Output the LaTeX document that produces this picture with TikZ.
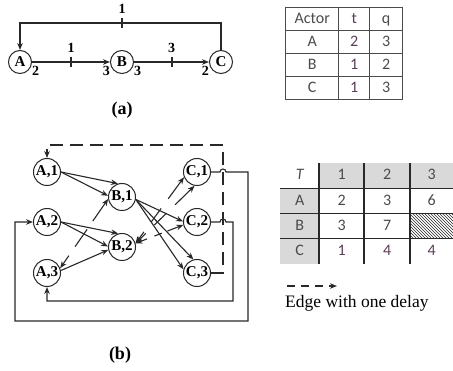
\documentclass[tikz,border=0pt]{standalone}
\usepackage{fontspec}
\setmainfont{Liberation Serif}
\newfontfamily\tabfont{Carlito}
\usetikzlibrary{arrows.meta, positioning, matrix, patterns, calc}
\definecolor{ink}{RGB}{40,40,40}
\definecolor{cellink}{RGB}{75,75,75}
\definecolor{tink}{RGB}{90,62,88}
\definecolor{cellgray}{RGB}{217,217,217}
\tikzset{
  actor/.style={circle, draw=ink, line width=1pt, inner sep=0pt, minimum size=23pt,
                font=\fontsize{15}{15}\selectfont\bfseries},
  firing/.style={actor, minimum size=27pt},
  port/.style={inner sep=0pt, font=\fontsize{14}{14}\selectfont\bfseries},
  dtick/.style={fill=ink, inner sep=0pt, minimum width=2pt, minimum height=10pt,
                label={[port, label distance=3pt]above:#1}},
  arrow/.style={-{Stealth[length=7pt, width=5.5pt]}, draw=ink, line width=1.1pt},
  darrow/.style={arrow, dash pattern=on 13pt off 7pt},
  cutedge/.style={{Stealth[length=7pt, width=5.5pt]}-{Stealth[length=7pt, width=5.5pt]},
                  draw=ink, line width=1.1pt, dash pattern=#1},
  tabcell/.style={inner sep=0pt, text=cellink, font=\fontsize{16}{16}\selectfont\tabfont,
                  text height=11pt, text depth=3pt},
  hdr/.style={fill=cellgray},
  caption/.style={font=\fontsize{18}{18}\selectfont\bfseries},
}

\begin{document}
\begin{tikzpicture}[x=1pt, y=-1pt]
  \useasboundingbox (0,0) rectangle (453,371);

  % (a) SDF graph
  \node[actor] (A) at (20,62) {A};
  \node[actor] (B) at (122,62) {B};
  \node[actor] (C) at (221,62) {C};
  \coordinate (aback) at (122,23);

  \draw[arrow] (A) -- node[dtick=1]{} (B);
  \draw[arrow] (B) -- node[dtick=3]{} (C);
  \draw[arrow] (C.north) |- (aback) node[dtick=1]{} -| (A.north);

  \node[port, below right=4pt and 0pt of A.east] (pA) {2};
  \node[port, below left=4pt and 0pt of B.west] (pBin) {3};
  \node[port, below right=4pt and 0pt of B.east] (pBout) {3};
  \node[port, below left=4pt and 0pt of C.west] (pC) {2};
  \node[caption, below=24pt of B] (capa) {(a)};

  % (a) rates table
  \matrix (rates) [matrix of nodes, anchor=north west, inner sep=0pt,
      column sep=-1pt, row sep=-1pt,
      nodes={tabcell, draw=cellink, line width=1pt, minimum height=23pt},
      column 1/.style={nodes={minimum width=53pt}},
      column 2/.style={nodes={minimum width=31pt, text=tink}},
      column 3/.style={nodes={minimum width=33pt}}] at (285,7) {
    Actor & t & q \\
    A & 2 & 3 \\
    B & 1 & 2 \\
    C & 1 & 3 \\
  };

  % (b) HSDF graph
  \node[firing] (A1) at (47,172) {A,1};
  \node[firing] (A2) at (47,222) {A,2};
  \node[firing] (A3) at (47,273) {A,3};
  \node[firing] (B1) at (122,197) {B,1};
  \node[firing] (B2) at (122,247) {B,2};
  \node[firing] (C1) at (197,172) {C,1};
  \node[firing] (C2) at (197,222) {C,2};
  \node[firing] (C3) at (197,273) {C,3};

  \draw[arrow] (A1.east) -- (B1.107);
  \draw[arrow] (A1.east) -- (B1.175);
  \draw[arrow] (A2.east) -- (B2.106);
  \draw[arrow] (A2.east) -- (B2.178);
  \draw[arrow] (A3.10) -- (B2.-168);
  \draw[cutedge={on 11pt off 11pt on 21pt off 10pt on 40pt}] (A3.20) -- (B1.-172);

  \draw[arrow] (B1.-10) -- (C2.178);
  \draw[arrow] (B1.-10) -- (C3.105);
  \draw[arrow] (B1.-10) -- (C3.165);
  \draw[cutedge={on 10pt off 12pt on 17pt off 12pt on 40pt}] (B2.15) -- (C1.-158);
  \draw[cutedge={on 10pt off 12pt on 17pt off 12pt on 40pt}] (B2.15) -- (C1.-100);
  \draw[cutedge={on 8pt off 8pt on 8pt off 6pt on 30pt}] (B2.15) -- (C2.-168);

  % feedback edges
  \coordinate (dtr) at (223,145);
  \coordinate (ret1) at (248,321);
  \coordinate (ret2) at (233,301);
  \draw[darrow] (C3.east) -| (dtr) -| (A1.north);
  \draw[arrow] (C1.east) -- ($(C1.east -| dtr)+(-3pt,0)$)
    arc[start angle=180, end angle=0, radius=3pt]
    -| (ret1) -| ([xshift=-18pt]A2.west) -- (A2.west);
  \draw[arrow] (C2.east) -- ($(C2.east -| dtr)+(-3pt,0)$)
    arc[start angle=180, end angle=0, radius=3pt]
    -| (ret2) -| (A3.south);

  \node[caption] (capb) at (120,355) {(b)};

  % (b) times table
  \matrix (times) [matrix of nodes, anchor=north west, inner sep=0pt, nodes in empty cells,
      nodes={tabcell, minimum height=25.25pt},
      column 1/.style={nodes={minimum width=39pt}},
      column 2/.style={nodes={minimum width=45pt}},
      column 3/.style={nodes={minimum width=46pt}},
      column 4/.style={nodes={minimum width=43pt}}] at (280,163) {
    |[font=\fontsize{16}{16}\selectfont\tabfont\itshape]| T & |[hdr]| 1 & |[hdr]| 2 & |[hdr]| 3 \\
    |[hdr]| A & 2 & 3 & 6 \\
    |[hdr]| B & 3 & 7 & |[pattern=north west lines, pattern color=ink]| \\
    |[hdr]| C & |[text=tink]| 1 & |[text=tink]| 4 & |[text=tink]| 4 \\
  };
  \draw[ink, line width=1.1pt]
    (times-1-2.north west) -- (times-4-2.south west)
    (times-1-3.north west) -- (times-4-3.south west)
    (times-1-4.north west) -- (times-4-4.south west)
    (times-2-1.north west) -- (times-2-4.north east)
    (times-3-1.north west) -- (times-3-4.north east)
    (times-4-1.north west) -- (times-4-4.north east);

  % legend
  \coordinate (lgs) at (287,286);
  \coordinate (lge) at (337,286);
  \draw[darrow, dash pattern=on 8pt off 6pt] (lgs) -- (lge);
  \node[below right=9pt and -2pt of lgs, inner sep=0pt,
        font=\fontsize{17.5}{17.5}\selectfont] (lgtxt) {Edge with one delay};

\end{tikzpicture}
\end{document}
